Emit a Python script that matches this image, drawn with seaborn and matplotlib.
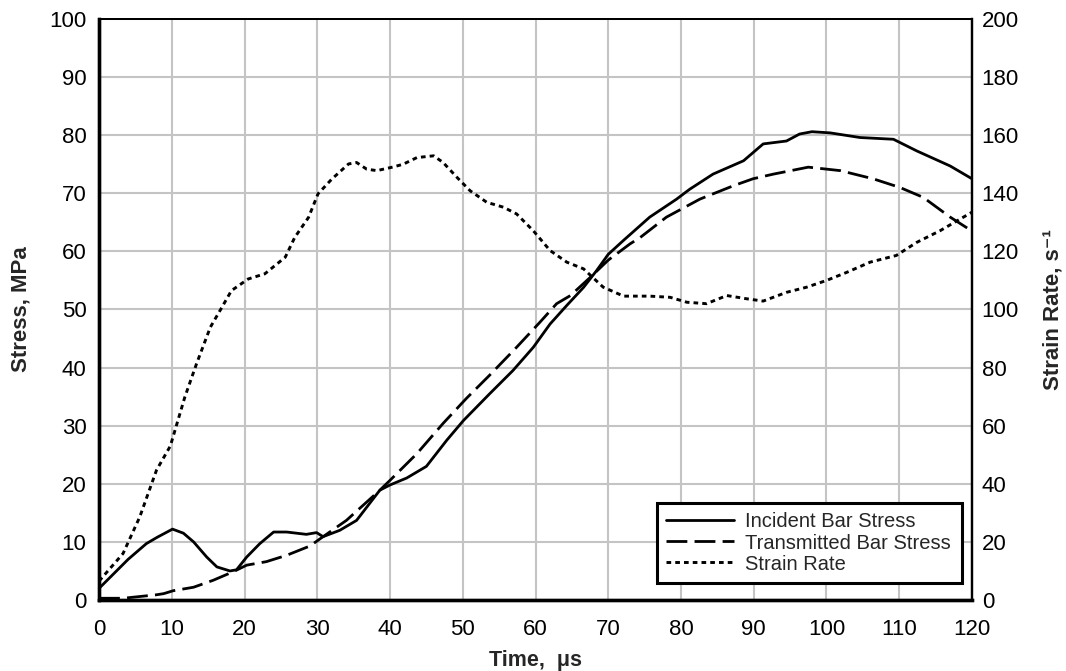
import matplotlib
matplotlib.use("Agg")
import matplotlib.pyplot as plt
import seaborn as sns
import pandas as pd

# Incident bar stress (MPa) vs time (µs)
incident_time = [0, 2, 4, 6.5, 8, 10.1, 11.6, 13, 14.8, 16.2, 18, 18.9, 20.3, 22.1, 24,
                 25.8, 28.5, 29.9, 30.8, 33.1, 35.4, 38.6, 40, 42.3, 45, 47.8, 50.1, 53.7,
                 56.9, 59.7, 62, 64.3, 66.6, 68.4, 70, 72.1, 75.7, 79.4, 81.2, 84.4, 88.6,
                 91.3, 94.5, 96.3, 98, 100.5, 104.6, 109.2, 112.4, 117, 120]
incident_stress = [2.0, 4.5, 7.0, 9.7, 10.8, 12.2, 11.5, 10.0, 7.4, 5.7, 5.0, 5.2, 7.4, 9.7,
                   11.7, 11.7, 11.3, 11.6, 10.9, 12.0, 13.7, 18.9, 19.8, 21.0, 23.0, 27.5,
                   30.9, 35.5, 39.5, 43.5, 47.5, 50.7, 53.8, 56.7, 59.5, 61.9, 65.9, 69.0,
                   70.7, 73.3, 75.6, 78.5, 79.0, 80.2, 80.6, 80.4, 79.6, 79.3, 77.3, 74.7, 72.5]

# Transmitted bar stress (MPa) vs time (µs)
transmitted_time = [0, 3.3, 5.6, 7.9, 8.9, 10.2, 13, 15.7, 18.5, 20.3, 23, 25.8, 29, 30.8,
                    34, 38.6, 40, 43.7, 47.3, 50.5, 53.7, 57.4, 60.6, 62.9, 64.8, 67.5, 70,
                    73, 74.4, 78, 82.6, 87.2, 89.9, 92.7, 97.5, 101.9, 106.4, 110.1, 113.3,
                    117, 120]
transmitted_stress = [0.3, 0.3, 0.6, 0.9, 1.1, 1.6, 2.2, 3.4, 4.9, 6.0, 6.6, 7.7, 9.3, 10.9,
                      13.7, 18.9, 20.6, 25.2, 30.4, 34.7, 38.7, 43.5, 47.8, 51.0, 52.4, 55.5,
                      58.5, 61.3, 62.4, 65.9, 69.0, 71.3, 72.5, 73.3, 74.5, 73.9, 72.5, 71.0,
                      69.3, 65.9, 63.5]

# Strain rate (1/s) vs time (µs)
rate_time = [0, 3.3, 5.6, 7.9, 9.8, 11.8, 13.4, 15.3, 16.9, 18.2, 20.5, 22.8, 25.6, 26.9,
             28.8, 30.1, 32, 34.3, 35.4, 36.8, 38.2, 40.5, 41.8, 43.7, 46, 47.3, 49.2, 51,
             53.3, 55.6, 57.4, 59.7, 62, 64.3, 66.6, 69.3, 72.1, 75.7, 78.5, 80.8, 83.5,
             86.3, 89, 91.3, 94.5, 97.3, 100, 102.8, 106, 109.6, 112.4, 115.6, 120]
strain_rate = [6.5, 16, 28.6, 44.7, 53, 69.9, 81.3, 93.9, 100.8, 106.5, 110.5, 112.3, 118,
               124.8, 131.7, 139.8, 144.9, 150.1, 150.6, 148.3, 147.8, 149.1, 150, 152.3,
               152.9, 150.6, 145.5, 140.9, 136.9, 135.2, 132.9, 127.1, 120.3, 116.3, 114,
               107.7, 104.6, 104.6, 104.2, 102.5, 102, 104.8, 103.7, 102.9, 105.9, 107.7,
               110, 112.8, 116.3, 118.6, 123.1, 127.1, 133.5]

x_ticks = list(range(0, 121, 10))
stress_ticks = list(range(0, 101, 10))
rate_ticks = list(range(0, 201, 20))

sns.set_theme(style="white")
plt.rcParams["font.family"] = ["Liberation Sans", "DejaVu Sans"]

fig = plt.figure(figsize=(10.66, 6.71), dpi=100)
ax = fig.add_subplot(111)
fig.subplots_adjust(left=0.0929, right=0.9118, bottom=0.1058, top=0.9717)
ax2 = ax.twinx()

inc_df = pd.DataFrame({"t": incident_time, "v": incident_stress})
tra_df = pd.DataFrame({"t": transmitted_time, "v": transmitted_stress})
rate_df = pd.DataFrame({"t": rate_time, "v": strain_rate})

sns.lineplot(data=inc_df, x="t", y="v", ax=ax, color="black", lw=2.0,
             label="Incident Bar Stress", legend=False, sort=False)
sns.lineplot(data=tra_df, x="t", y="v", ax=ax, color="black", lw=2.0,
             label="Transmitted Bar Stress", legend=False, sort=False)
ax.lines[1].set_dashes((7.5, 2.6))
sns.lineplot(data=rate_df, x="t", y="v", ax=ax2, color="black", lw=2.1,
             label="Strain Rate", legend=False, sort=False)
ax2.lines[0].set_dashes((1.6, 1.4))

ax.set_xlim(0, 120)
ax.set_ylim(0, 100)
ax2.set_ylim(0, 200)
ax.set_xticks(x_ticks)
ax.set_yticks(stress_ticks)
ax2.set_yticks(rate_ticks)

ax.grid(True, color="#c4c4c4", lw=1.5)
ax.set_axisbelow(True)

ax.tick_params(axis="both", length=0, labelsize=16, colors="black")
ax.tick_params(axis="y", pad=9)
ax.tick_params(axis="x", pad=14)
ax2.tick_params(axis="y", length=0, labelsize=16, pad=7, colors="black")

ax.set_xlabel("Time,  μs", fontsize=15.5, fontweight="bold", labelpad=7)
ax.set_ylabel("Stress, MPa", fontsize=16, fontweight="bold", labelpad=13)
ax2.set_ylabel("Strain Rate, s⁻¹", fontsize=16, fontweight="bold", labelpad=17)

for a in (ax, ax2):
    for side, w in (("left", 2.4), ("bottom", 2.4), ("right", 1.6), ("top", 1.4)):
        a.spines[side].set_visible(True)
        a.spines[side].set_color("black")
        a.spines[side].set_linewidth(w)

handles = ax.lines[:2] + ax2.lines[:1]
labels = [h.get_label() for h in handles]
leg = ax2.legend(handles, labels, loc="lower left",
                 bbox_to_anchor=(0.639, 0.03, 0.35, 0.16), mode="expand",
                 fontsize=14.5, frameon=True, fancybox=False, framealpha=1,
                 edgecolor="black", handlelength=3.4, handletextpad=0.55,
                 labelspacing=0.1, borderpad=0.45, borderaxespad=0)
leg.get_frame().set_linewidth(2.2)

fig.savefig("out.png", dpi=100)
